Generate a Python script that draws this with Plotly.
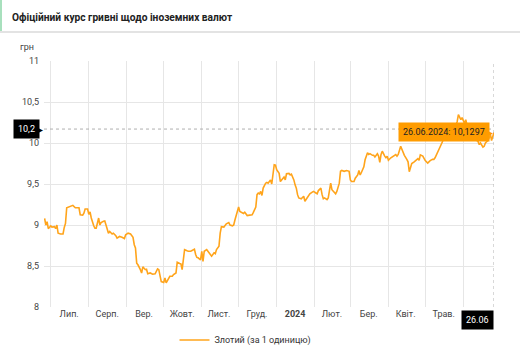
import plotly.graph_objects as go

DATES = [
    "2023-06-26", "2023-06-27", "2023-06-28", "2023-06-29", "2023-07-01", "2023-07-02", "2023-07-04",
    "2023-07-05", "2023-07-06", "2023-07-07", "2023-07-09", "2023-07-11", "2023-07-12", "2023-07-13",
    "2023-07-14", "2023-07-16", "2023-07-18", "2023-07-19", "2023-07-21", "2023-07-22", "2023-07-24",
    "2023-07-25", "2023-07-27", "2023-07-28", "2023-07-29", "2023-07-31",
    "2023-08-01", "2023-08-02", "2023-08-03", "2023-08-05", "2023-08-06", "2023-08-07", "2023-08-09",
    "2023-08-10", "2023-08-11", "2023-08-13", "2023-08-14", "2023-08-15", "2023-08-16", "2023-08-17",
    "2023-08-18", "2023-08-20", "2023-08-21", "2023-08-23", "2023-08-24", "2023-08-26", "2023-08-28",
    "2023-08-30", "2023-08-31",
    "2023-09-02", "2023-09-04", "2023-09-06", "2023-09-07", "2023-09-08", "2023-09-09", "2023-09-10",
    "2023-09-12", "2023-09-13", "2023-09-14", "2023-09-16", "2023-09-17", "2023-09-18", "2023-09-20",
    "2023-09-22", "2023-09-24", "2023-09-26", "2023-09-27", "2023-09-28", "2023-09-29",
    "2023-10-01", "2023-10-02", "2023-10-03", "2023-10-04", "2023-10-06", "2023-10-08", "2023-10-09",
    "2023-10-11", "2023-10-12", "2023-10-14", "2023-10-15", "2023-10-16", "2023-10-17", "2023-10-18",
    "2023-10-20", "2023-10-21", "2023-10-23", "2023-10-24", "2023-10-26", "2023-10-27", "2023-10-28",
    "2023-10-29", "2023-10-31",
    "2023-11-01", "2023-11-02", "2023-11-03", "2023-11-04", "2023-11-05", "2023-11-06", "2023-11-08",
    "2023-11-09", "2023-11-11", "2023-11-12", "2023-11-13", "2023-11-15", "2023-11-16", "2023-11-17",
    "2023-11-19", "2023-11-20", "2023-11-21", "2023-11-23", "2023-11-24", "2023-11-26", "2023-11-27",
    "2023-11-28", "2023-11-30",
    "2023-12-01", "2023-12-02", "2023-12-04", "2023-12-05", "2023-12-06", "2023-12-08", "2023-12-10",
    "2023-12-12", "2023-12-13", "2023-12-15", "2023-12-16", "2023-12-17", "2023-12-18", "2023-12-19",
    "2023-12-20", "2023-12-21", "2023-12-23", "2023-12-24", "2023-12-25", "2023-12-27", "2023-12-28",
    "2023-12-29", "2023-12-30", "2023-12-31",
    "2024-01-01", "2024-01-03", "2024-01-04", "2024-01-05", "2024-01-07", "2024-01-08", "2024-01-09",
    "2024-01-11", "2024-01-12", "2024-01-13", "2024-01-15", "2024-01-16", "2024-01-17", "2024-01-18",
    "2024-01-19", "2024-01-21", "2024-01-22", "2024-01-23", "2024-01-24", "2024-01-26", "2024-01-27",
    "2024-01-28", "2024-01-30", "2024-01-31",
    "2024-02-02", "2024-02-03", "2024-02-04", "2024-02-06", "2024-02-07", "2024-02-08", "2024-02-09",
    "2024-02-11", "2024-02-12", "2024-02-13", "2024-02-14", "2024-02-15", "2024-02-17", "2024-02-18",
    "2024-02-19", "2024-02-21", "2024-02-22", "2024-02-23", "2024-02-25", "2024-02-27", "2024-02-29",
    "2024-03-01", "2024-03-02", "2024-03-04", "2024-03-05", "2024-03-07", "2024-03-08", "2024-03-09",
    "2024-03-10", "2024-03-12", "2024-03-13", "2024-03-15", "2024-03-16", "2024-03-17", "2024-03-19",
    "2024-03-20", "2024-03-21", "2024-03-23", "2024-03-24", "2024-03-25", "2024-03-26", "2024-03-27",
    "2024-03-29", "2024-03-30", "2024-03-31",
    "2024-04-01", "2024-04-03", "2024-04-04", "2024-04-05", "2024-04-07", "2024-04-08", "2024-04-09",
    "2024-04-11", "2024-04-12", "2024-04-13", "2024-04-14", "2024-04-16", "2024-04-17", "2024-04-18",
    "2024-04-19", "2024-04-20", "2024-04-22", "2024-04-23", "2024-04-25", "2024-04-26", "2024-04-27",
    "2024-04-29", "2024-04-30",
    "2024-05-01", "2024-05-03", "2024-05-04", "2024-05-05", "2024-05-07", "2024-05-08", "2024-05-09",
    "2024-05-11", "2024-05-12", "2024-05-14", "2024-05-15", "2024-05-16", "2024-05-18", "2024-05-19",
    "2024-05-21", "2024-05-22", "2024-05-24", "2024-05-26", "2024-05-27", "2024-05-28", "2024-05-30",
    "2024-05-31",
    "2024-06-02", "2024-06-03", "2024-06-04", "2024-06-06", "2024-06-07", "2024-06-09", "2024-06-11",
    "2024-06-13", "2024-06-14", "2024-06-15", "2024-06-17", "2024-06-18", "2024-06-19", "2024-06-21",
    "2024-06-22", "2024-06-23", "2024-06-24", "2024-06-25", "2024-06-26",
]

PLN_RATE = [
    9.08, 9.00, 9.04, 8.955, 8.99, 8.975, 8.98,
    8.955, 9.00, 8.90, 8.89, 8.89, 8.97, 9.02,
    9.21, 9.22, 9.235, 9.24, 9.21, 9.21, 9.21,
    9.125, 9.12, 9.145, 9.195, 9.195,
    9.13, 9.16, 9.085, 8.99, 8.96, 8.96, 9.085,
    9.00, 9.03, 9.045, 9.05, 9.00, 8.96, 8.90,
    8.92, 8.89, 8.90, 8.87, 8.84, 8.86, 8.85,
    8.835, 8.88,
    8.90, 8.89, 8.85, 8.76, 8.72, 8.535, 8.515,
    8.455, 8.415, 8.49, 8.455, 8.46, 8.405, 8.415,
    8.40, 8.405, 8.465, 8.455, 8.375, 8.31,
    8.30, 8.355, 8.295, 8.325, 8.375, 8.375, 8.395,
    8.415, 8.545, 8.53, 8.525, 8.455, 8.60, 8.70,
    8.685, 8.68, 8.68, 8.69, 8.705, 8.64, 8.605,
    8.60, 8.575,
    8.68, 8.555, 8.68, 8.69, 8.70, 8.68, 8.64,
    8.62, 8.66, 8.65, 8.70, 8.74, 8.90, 8.98,
    8.975, 9.00, 9.015, 9.03, 9.00, 8.99, 9.00,
    9.06, 9.165,
    9.22, 9.165, 9.145, 9.14, 9.155, 9.115, 9.12,
    9.125, 9.155, 9.22, 9.37, 9.39, 9.38, 9.41,
    9.36, 9.45, 9.51, 9.52, 9.51, 9.55, 9.50,
    9.63, 9.735, 9.73,
    9.675, 9.63, 9.53, 9.55, 9.585, 9.55, 9.625,
    9.63, 9.61, 9.62, 9.55, 9.49, 9.45, 9.37,
    9.33, 9.32, 9.33, 9.35, 9.29, 9.34, 9.36,
    9.38, 9.40, 9.41,
    9.39, 9.38, 9.42, 9.45, 9.37, 9.32, 9.33,
    9.31, 9.33, 9.41, 9.51, 9.43, 9.39, 9.38,
    9.41, 9.51, 9.655, 9.665, 9.655, 9.665, 9.655,
    9.55, 9.53, 9.53, 9.57, 9.61, 9.665, 9.61,
    9.64, 9.71, 9.795, 9.88, 9.86, 9.87, 9.85,
    9.85, 9.83, 9.87, 9.84, 9.765, 9.86, 9.90,
    9.84, 9.82, 9.84,
    9.79, 9.82, 9.83, 9.84, 9.86, 9.84, 9.86,
    9.96, 9.92, 9.865, 9.85, 9.80, 9.77, 9.65,
    9.71, 9.75, 9.77, 9.78, 9.81, 9.79, 9.855,
    9.84, 9.80,
    9.785, 9.755, 9.775, 9.785, 9.80, 9.80, 9.82,
    9.88, 9.92, 9.97, 10.015, 10.06, 10.08, 10.12,
    10.15, 10.18, 10.17, 10.21, 10.26, 10.345, 10.285,
    10.31,
    10.24, 10.285, 10.22, 10.17, 10.10, 10.06, 10.04,
    10.02, 9.98, 10.00, 9.95, 9.96, 10.00, 10.03,
    10.06, 10.11, 10.03, 10.08, 10.1297,
]

MONTH_TICKS = ["2023-07-16", "2023-08-16", "2023-09-15", "2023-10-16", "2023-11-15", "2023-12-16",
               "2024-01-16", "2024-02-15", "2024-03-16", "2024-04-15", "2024-05-16"]
MONTH_LABELS = ["Лип.", "Серп.", "Вер.", "Жовт.", "Лист.", "Груд.",
                "<b>2024</b>", "Лют.", "Бер.", "Квіт.", "Трав."]
Y_TICKS = [8, 8.5, 9, 9.5, 10, 10.5, 11]

SERIES_NAME = "Злотий (за 1 одиницю)"
TITLE = "Офіційний курс гривні щодо іноземних валют"
CURSOR_Y = 10.17
CURSOR_Y_LABEL = "10,2"
LAST_DATE = DATES[-1]
LAST_VALUE = PLN_RATE[-1]
TOOLTIP = "26.06.2024: 10,1297"
CURSOR_X_LABEL = "26.06"

FONT = "Roboto, 'Noto Sans', sans-serif"
ORANGE = "#ffa41b"
GRID = "#e6e6e6"
FS = 9

fig = go.Figure()
fig.add_trace(go.Scatter(
    x=DATES, y=PLN_RATE, mode="lines", name=SERIES_NAME,
    line=dict(color=ORANGE, width=1.6), showlegend=True,
))

fig.update_layout(
    width=520, height=350,
    margin=dict(l=44, r=26, t=61, b=43, autoexpand=False),
    paper_bgcolor="white", plot_bgcolor="white",
    separators=", ",
    font=dict(family=FONT, size=FS, color="#444"),
    showlegend=True,
    legend=dict(orientation="h", x=0.29, xanchor="left", y=-0.134, yanchor="middle",
                font=dict(size=FS, color="#333"), bgcolor="rgba(0,0,0,0)"),
    xaxis=dict(
        type="date", range=["2023-06-25 12:00", "2024-06-26"],
        tickmode="array", tickvals=MONTH_TICKS, ticktext=MONTH_LABELS,
        showgrid=False, ticks="", zeroline=False, showline=False,
        tickfont=dict(size=FS, color="#444"),
        minor=dict(dtick="M1", tick0="2023-07-01", showgrid=True, gridcolor=GRID, gridwidth=1, ticks=""),
    ),
    yaxis=dict(
        range=[8, 11], tickmode="array", tickvals=Y_TICKS,
        showgrid=True, gridcolor=GRID, zeroline=False, showline=False, ticks="",
        ticklabelstandoff=4,
        tickfont=dict(size=FS, color="#444"),
    ),
)

# title band
fig.add_shape(type="rect", xref="paper", yref="paper", x0=-44/450, x1=-42/450,
              y0=1 + 29/246, y1=1 + 61/246, fillcolor="#a8e0bd", line_width=0, layer="above")
fig.add_shape(type="line", xref="paper", yref="paper", x0=-44/450, x1=1 + 26/450,
              y0=1 + 29/246, y1=1 + 29/246, line=dict(color="#e3e3e3", width=2), layer="above")
fig.add_annotation(text=f"<b>{TITLE}</b>", xref="paper", yref="paper", x=0, y=1,
                   xanchor="left", yanchor="middle", xshift=-34, yshift=44, showarrow=False,
                   font=dict(size=10.2, color="#222"))
fig.add_annotation(text="грн", xref="paper", yref="paper", x=0, y=1, xanchor="right",
                   yanchor="middle", xshift=-8, yshift=14, showarrow=False,
                   font=dict(size=FS, color="#444"))

# crosshair
fig.add_shape(type="line", xref="paper", yref="y", x0=0, x1=1, y0=CURSOR_Y, y1=CURSOR_Y,
              line=dict(color="#b0b0b0", width=1, dash="dot"))
fig.add_shape(type="line", xref="x", yref="paper", x0=LAST_DATE, x1=LAST_DATE, y0=0, y1=1,
              line=dict(color="#b0b0b0", width=1, dash="dot"))
fig.add_annotation(text=CURSOR_Y_LABEL, xref="paper", yref="y", x=0, y=CURSOR_Y,
                   xanchor="right", yanchor="middle", xshift=-4, showarrow=False,
                   bgcolor="black", borderpad=4, font=dict(size=FS, color="white"))
fig.add_annotation(text="▸", xref="paper", yref="y", x=0, y=CURSOR_Y,
                   xanchor="right", yanchor="middle", xshift=1, showarrow=False,
                   font=dict(size=10, color="black"))
fig.add_annotation(text=CURSOR_X_LABEL, xref="x", yref="paper", x=LAST_DATE, y=0,
                   xanchor="right", yanchor="top", yshift=-3, showarrow=False,
                   bgcolor="black", borderpad=4, font=dict(size=FS, color="white"))

# tooltip
fig.add_annotation(text=TOOLTIP, xref="x", yref="y", x=LAST_DATE, y=LAST_VALUE,
                   xanchor="right", yanchor="middle", xshift=-4, showarrow=False,
                   bgcolor="#ff9c00", borderpad=4, font=dict(size=FS, color="#222"))
fig.add_annotation(text="▸", xref="x", yref="y", x=LAST_DATE, y=LAST_VALUE,
                   xanchor="right", yanchor="middle", xshift=1, showarrow=False,
                   font=dict(size=10, color="#ff9c00"))

fig.write_html("out.html")
